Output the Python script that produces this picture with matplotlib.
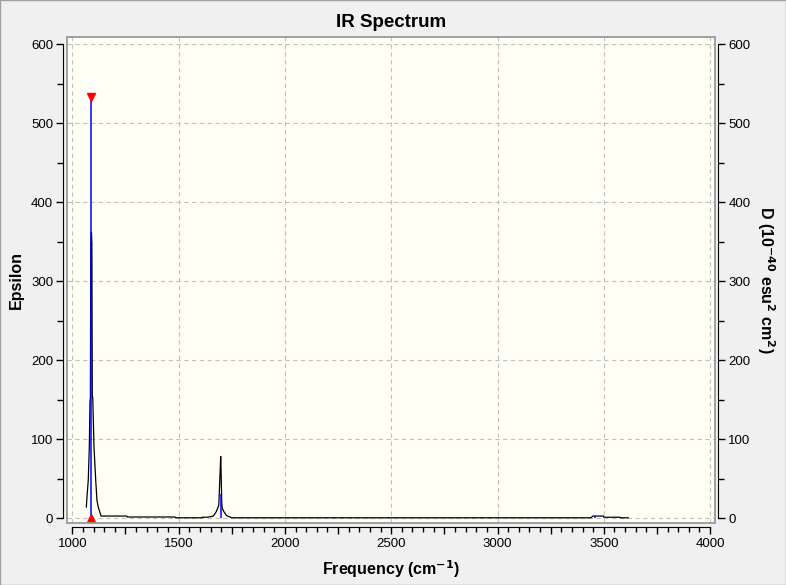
import matplotlib
matplotlib.use("Agg")
from matplotlib import pyplot as plt
from matplotlib.patches import Rectangle
from matplotlib.ticker import MultipleLocator, FuncFormatter

# spectrum (epsilon)
spec_freq = [1066, 1069, 1075, 1080, 1083, 1085, 1087, 1090, 1092, 1094, 1096,
             1102, 1110, 1116, 1122, 1135, 1256, 1258, 1483, 1485, 1608, 1610,
             1632, 1648, 1663, 1677, 1689, 1695, 1698, 1700, 1703, 1705, 1713,
             1726, 1750, 3440, 3448, 3498, 3500, 3576, 3578, 3615]
spec_eps = [14, 27, 48, 90, 146, 153, 347, 362, 347, 153, 153,
            90, 48, 22, 14, 2.5, 2.5, 1.3, 1.3, 0.3, 0.3, 1,
            1, 1.5, 2.5, 8, 16, 57, 78, 57, 19, 12.6, 8,
            3, 0.3, 0.3, 2.5, 2.5, 1, 1, 0.3, 0.3]

# dipole strength sticks
stick_freq = [1089, 1698, 3459]
stick_d = [533, 31, 2]

# selected peak
sel_freq = 1089
sel_d = 533

x_labels = [1000, 1500, 2000, 2500, 3000, 3500, 4000]
y_labels = [0, 100, 200, 300, 400, 500, 600]

plt.rcParams["font.family"] = ["Liberation Sans", "DejaVu Sans"]

fig = plt.figure(figsize=(7.86, 5.85), dpi=100, facecolor="#f0f0f0")
ax = fig.add_axes([67 / 786, 1 - 523 / 585, 648 / 786, 486 / 585])
ax.set_facecolor("#fffff6")
ax.set_xlim(975, 4023)
ax.set_ylim(-6.3, 608.9)

for v in x_labels:
    ax.axvline(v, color="#c0c0c0", linestyle=(0, (4, 3)), linewidth=0.8, zorder=0)
for v in y_labels:
    ax.axhline(v, color="#c0c0c0", linestyle=(0, (4, 3)), linewidth=0.8, zorder=0)

ax2 = ax.twinx()
ax2.set_ylim(-6.3, 608.9)
ax2.plot(spec_freq, spec_eps, color="black", linewidth=0.9, zorder=1)
ax2.vlines(stick_freq, 0, stick_d, color="#0000ff", linewidth=1.1, zorder=2)
ax2.plot([sel_freq], [sel_d], marker="v", color="red", markersize=6, linestyle="none",
         clip_on=False, zorder=3)
ax2.plot([sel_freq], [0], marker="^", color="red", markersize=6, linestyle="none",
         clip_on=False, zorder=3)

# gray frame round the plot area
ax2.add_patch(Rectangle((0, 0), 1, 1, transform=ax.transAxes, fill=False,
                        edgecolor="#999999", linewidth=1.3, clip_on=False, zorder=5))

for a in (ax, ax2):
    for s in a.spines.values():
        s.set_visible(False)

ax.spines["left"].set_visible(True)
ax.spines["left"].set_position(("outward", 3))
ax.spines["left"].set_bounds(0, 600)
ax.spines["bottom"].set_visible(True)
ax.spines["bottom"].set_position(("outward", 3))
ax.spines["bottom"].set_bounds(1000, 4000)
ax2.spines["right"].set_visible(True)
ax2.spines["right"].set_position(("outward", 2.5))
ax2.spines["right"].set_bounds(0, 600)

ax.set_xticks([v for v in range(1000, 4001, 250)])
ax.xaxis.set_major_formatter(FuncFormatter(lambda v, p: f"{v:.0f}" if v % 500 == 0 else ""))
ax.xaxis.set_minor_locator(MultipleLocator(50))

for a in (ax, ax2):
    a.set_yticks(y_labels)
    a.yaxis.set_minor_locator(MultipleLocator(50))

ax.tick_params(axis="x", which="major", length=5, width=1, pad=3, labelsize=9.5)
ax.tick_params(axis="x", which="minor", length=3.5, width=1)
ax.tick_params(axis="y", which="major", length=5, width=1, pad=2, labelsize=9.5)
ax.tick_params(axis="y", which="minor", length=4.5, width=1)
ax2.tick_params(axis="y", which="major", length=5, width=1, pad=2, labelsize=9.5)
ax2.tick_params(axis="y", which="minor", length=4.5, width=1)

ax.set_title("IR Spectrum", fontsize=13.5, fontweight="bold", y=1.02, pad=0)
ax.set_xlabel("Frequency (cm$^{\\mathbf{-1}}$)", fontsize=11.5, fontweight="bold")
ax.xaxis.set_label_coords(0.5, -0.072)
ax.set_ylabel("Epsilon", fontsize=11.5, fontweight="bold")
ax.yaxis.set_label_coords(-0.066, 0.5)
ax2.set_ylabel("D (10$^{\\mathbf{-40}}$ esu$^{\\mathbf{2}}$ cm$^{\\mathbf{2}}$)", fontsize=11.5,
               fontweight="bold", rotation=-90, va="bottom")
ax2.yaxis.set_label_coords(1.062, 0.5)

fig.patches.append(Rectangle((0, 0), 1, 1, transform=fig.transFigure, fill=False,
                             edgecolor="#a0a0a0", linewidth=1))

fig.savefig("out.png", dpi=100, facecolor=fig.get_facecolor())
